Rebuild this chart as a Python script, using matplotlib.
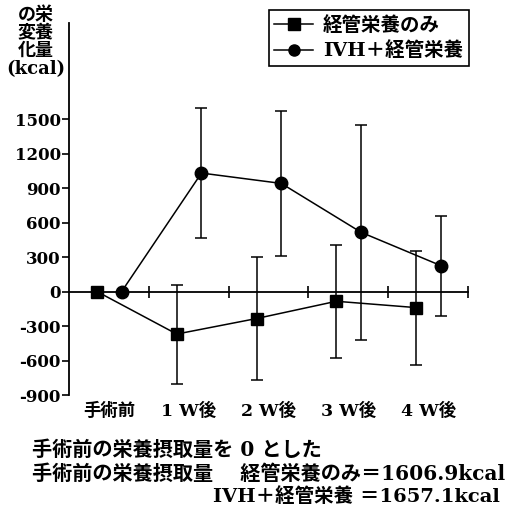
import matplotlib
matplotlib.use("Agg")
import matplotlib.pyplot as plt
from matplotlib.lines import Line2D

plt.rcParams['font.family'] = ['DejaVu Serif', 'Noto Sans CJK JP']
plt.rcParams['font.weight'] = 'bold'

# data
labels = ["手術前", "1 W後", "2 W後", "3 W後", "4 W後"]
enteral_mean = [0, -370, -235, -85, -140]
enteral_sd = [0, 430, 535, 490, 495]
ivh_mean = [0, 1030, 940, 515, 225]
ivh_sd = [0, 565, 630, 935, 435]
yticks = [-900, -600, -300, 0, 300, 600, 900, 1200, 1500]

fig = plt.figure(figsize=(5.13, 5.15), dpi=100)
ax = fig.add_axes([69 / 513, 1 - 395 / 515, (468 - 69) / 513, (395 - 23) / 515])

x = list(range(len(labels)))
xe = [i - 0.15 for i in x]
xi = [i + 0.16 for i in x]

ax.errorbar(xe, enteral_mean, yerr=enteral_sd, fmt='-s', color='black',
            lw=1.1, elinewidth=1.1, capsize=4, capthick=1.1, markersize=9, zorder=3)
ax.errorbar(xi, ivh_mean, yerr=ivh_sd, fmt='-o', color='black',
            lw=1.1, elinewidth=1.1, capsize=4, capthick=1.1, markersize=9, zorder=3)

ax.set_xlim(-0.5, 4.5)
ax.set_ylim(-900, 2335)
ax.set_yticks(yticks)
ax.set_yticklabels([str(v) for v in yticks], fontsize=12)
ax.tick_params(axis='y', direction='out', length=5, width=1.2, pad=1)

ax.spines['top'].set_visible(False)
ax.spines['right'].set_visible(False)
ax.spines['left'].set_linewidth(1.3)
ax.spines['bottom'].set_position(('data', 0))
ax.spines['bottom'].set_linewidth(1.3)

ax.set_xticks(x)
ax.set_xticklabels(labels, fontsize=12.5)
ax.tick_params(axis='x', which='major', length=0, pad=80)
ax.set_xticks([0.5, 1.5, 2.5, 3.5, 4.5], minor=True)
ax.tick_params(axis='x', which='minor', direction='inout', length=9, width=1.2)

fig.text(36 / 513, 1 - 6 / 515, "の栄\n変養\n化量\n(kcal)", ha='center', va='top',
         fontsize=13, linespacing=1.0)

handles = [
    Line2D([], [], color='black', lw=1.1, marker='s', markersize=8),
    Line2D([], [], color='black', lw=1.1, marker='o', markersize=8),
]
leg = fig.legend(handles, ["経管栄養のみ", "IVH＋経管栄養"], loc='upper right',
                 bbox_to_anchor=(469 / 513, 1 - 10 / 515),
                 borderaxespad=0, fancybox=False, framealpha=1, edgecolor='black',
                 fontsize=14, handlelength=2.0, borderpad=0.3, labelspacing=0.35,
                 handletextpad=0.5)
leg.get_frame().set_linewidth(1.2)

fig.text(32 / 513, 1 - 450 / 515, "手術前の栄養摂取量を 0 とした", ha='left', va='center', fontsize=14.5)
fig.text(32 / 513, 1 - 474 / 515, "手術前の栄養摂取量　 経管栄養のみ＝1606.9kcal", ha='left', va='center', fontsize=14.5)
fig.text(500 / 513, 1 - 497 / 515, "IVH＋経管栄養 ＝1657.1kcal", ha='right', va='center', fontsize=14)

plt.savefig("out.png", dpi=100)
